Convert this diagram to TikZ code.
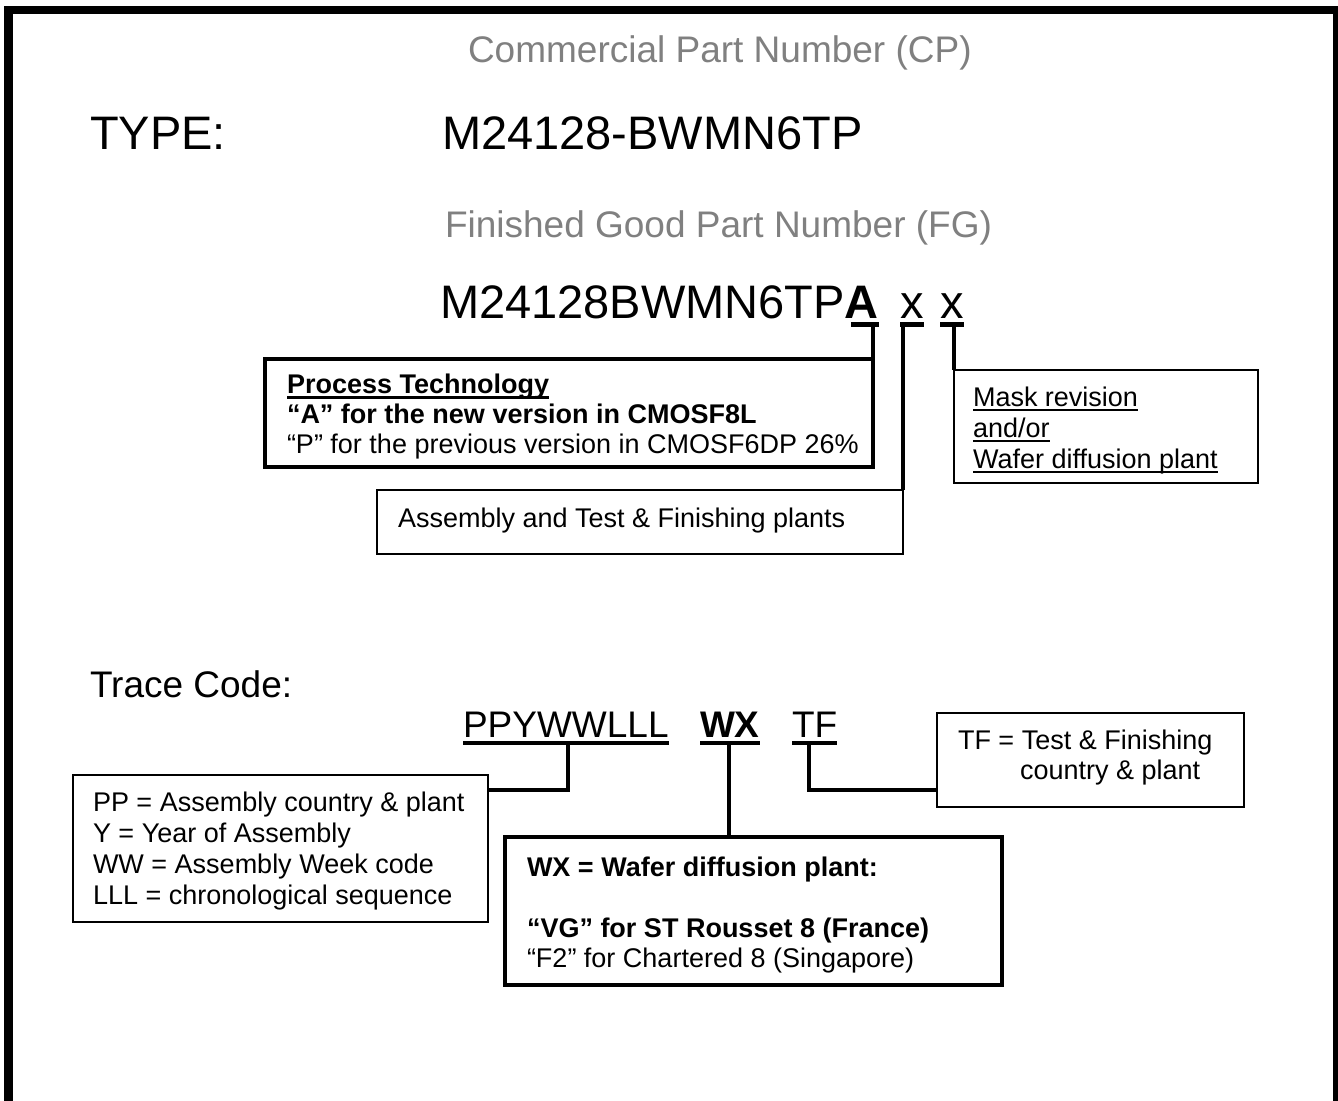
\documentclass[tikz,border=0pt]{standalone}
\usepackage{fontspec}
\setmainfont{Liberation Sans}
\definecolor{hdrgray}{RGB}{128,128,128}
\newcommand\BigF{\fontsize{47}{56}\selectfont}
\newcommand\MidF{\fontsize{37}{44}\selectfont}
\newcommand\SmF{\fontsize{27}{31}\selectfont}
\tikzset{
  txt/.style={anchor=base west, inner sep=0pt, outer sep=0pt},
  hdr/.style={txt, font=\MidF, text=hdrgray},
  thickbox/.style={draw, line width=4.5pt, inner sep=0pt, outer sep=0pt, anchor=north west},
  thinbox/.style={draw, line width=2pt, inner sep=0pt, outer sep=0pt, anchor=north west},
  conn/.style={line width=3.6pt},
  ulbig/.style={line width=5pt},
  ulmid/.style={line width=4pt},
  ulsm/.style={line width=2.2pt}
}
\begin{document}
\begin{tikzpicture}[x=1pt,y=-1pt]
\useasboundingbox (0,0) rectangle (1338,1100);
\begin{scope}
  \clip (0,0) rectangle (1338,1100);
  \draw[line width=8.5pt] (8.5,10) rectangle (1337,1130);
\end{scope}

% ---- headers ----
\node[hdr] (cp) at (468,62) {Commercial Part Number (CP)};
\node[txt, font=\BigF] (typel) at (90,149) {TYPE:};
\node[txt, font=\BigF] (cpn) at (442,149) {M24128-BWMN6TP};
\node[hdr] (fg) at (445,237) {Finished Good Part Number (FG)};

% ---- finished good number ----
\node[txt, font=\BigF] (fgn) at (440,318) {M24128BWMN6TP};
\node[txt, font=\BigF\bfseries] (fga) at (fgn.base east) {A};
\node[txt, font=\BigF] (fgx1) at (900,318) {x};
\node[txt, font=\BigF] (fgx2) at (940,318) {x};
\draw[ulbig] ([xshift=6pt,yshift=-6.5pt]fga.base west) -- ([yshift=-6.5pt]fga.base east);
\draw[ulbig] ([yshift=-6.5pt]fgx1.base west) -- ([yshift=-6.5pt]fgx1.base east);
\draw[ulbig] ([yshift=-6.5pt]fgx2.base west) -- ([yshift=-6.5pt]fgx2.base east);

% ---- boxes (upper) ----
\node[thickbox, minimum width=608pt, minimum height=108pt] (proc) at (265,359) {};
\node[thinbox, minimum width=526pt, minimum height=64pt] (asm) at (377,490) {};
\node[thinbox, minimum width=304pt, minimum height=113pt] (mask) at (954,370) {};

\coordinate (sA) at (873,324.5);
\coordinate (sX1) at (903,324.5);
\coordinate (sX2) at (954,324.5);
\draw[conn] (sA) -- (proc.north east);
\draw[conn] (sX1) -- (asm.north east);
\draw[conn] (sX2) -- (mask.north west);

% process box text
\node[txt, font=\SmF\bfseries] (pt1) at (287,393) {Process Technology};
\draw[ulsm] ([yshift=-4.5pt]pt1.base west) -- ([yshift=-4.5pt]pt1.base east);
\node[txt, font=\SmF\bfseries] (pt2) at (287,423) {“A” for the new version in CMOSF8L};
\node[txt, font=\SmF] (pt3) at (287,453) {“P” for the previous version in CMOSF6DP 26\%};

% assembly box text
\node[txt, font=\SmF] (asmt) at (398,527) {Assembly and Test \& Finishing plants};

% mask box text
\node[txt, font=\SmF] (m1) at (973,406) {Mask revision};
\node[txt, font=\SmF] (m2) at (973,437) {and/or};
\node[txt, font=\SmF] (m3) at (973,468) {Wafer diffusion plant};
\foreach \n in {m1,m2,m3}
  \draw[ulsm] ([yshift=-4pt]\n.base west) -- ([yshift=-4pt]\n.base east);

% ---- trace code ----
\node[txt, font=\MidF] (tc) at (90,697) {Trace Code:};
\node[txt, font=\MidF] (pp) at (463,737) {PPYWWLLL};
\node[txt, font=\MidF\bfseries] (wx) at (700,737) {WX};
\node[txt, font=\MidF] (tf) at (792,737) {TF};
\foreach \n in {pp,wx,tf}
  \draw[ulmid] ([yshift=-6pt]\n.base west) -- ([yshift=-6pt]\n.base east);

\node[thinbox, minimum width=415pt, minimum height=147pt] (lbox) at (73,775) {};
\node[thickbox, minimum width=497pt, minimum height=148pt] (wxbox) at (505,837) {};
\node[thinbox, minimum width=307pt, minimum height=94pt] (tfbox) at (937,713) {};

\coordinate (sPP) at (568,743);
\coordinate (sWX) at (729,743);
\coordinate (sTF) at (809,743);
\draw[conn] (sPP) |- ([yshift=-15pt]lbox.north east);
\draw[conn] (sWX) -- (sWX |- wxbox.north);
\draw[conn] (sTF) |- ([yshift=-77pt]tfbox.north west);

% left box text
\node[txt, font=\SmF] (l1) at (93,811) {PP = Assembly country \& plant};
\node[txt, font=\SmF] (l2) at (93,842) {Y = Year of Assembly};
\node[txt, font=\SmF] (l3) at (93,873) {WW = Assembly Week code};
\node[txt, font=\SmF] (l4) at (93,904) {LLL = chronological sequence};

% wx box text
\node[txt, font=\SmF\bfseries] (w1) at (527,876) {WX = Wafer diffusion plant:};
\node[txt, font=\SmF\bfseries] (w2) at (527,937) {“VG” for ST Rousset 8 (France)};
\node[txt, font=\SmF] (w3) at (527,967) {“F2” for Chartered 8 (Singapore)};

% tf box text
\node[txt, font=\SmF] (t1) at (958,749) {TF = Test \& Finishing};
\node[txt, font=\SmF] (t2) at (1020,779) {country \& plant};
\end{tikzpicture}
\end{document}
